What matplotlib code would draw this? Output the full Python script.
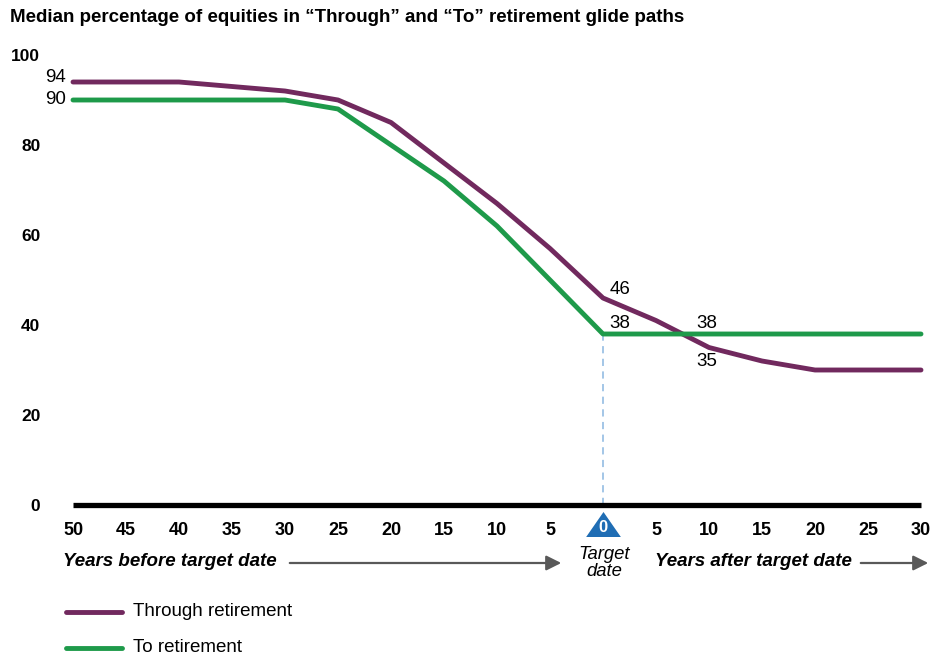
import matplotlib
matplotlib.use("Agg")
import matplotlib.pyplot as plt
from matplotlib.lines import Line2D
from matplotlib.patches import FancyArrowPatch

plt.rcParams['font.family'] = ['Liberation Sans', 'DejaVu Sans']

years = [-50, -45, -40, -35, -30, -25, -20, -15, -10, -5, 0, 5, 10, 15, 20, 25, 30]
through = [94, 94, 94, 93, 92, 90, 85, 76, 67, 57, 46, 41, 35, 32, 30, 30, 30]
to_ret = [90, 90, 90, 90, 90, 88, 80, 72, 62, 50, 38, 38, 38, 38, 38, 38, 38]
yticks = [0, 20, 40, 60, 80, 100]
title = "Median percentage of equities in \u201cThrough\u201d and \u201cTo\u201d retirement glide paths"

PURPLE = "#71295e"
GREEN = "#1e9a4a"
BLUE = "#1f6db4"
W, H = 946, 658

fig = plt.figure(figsize=(W / 100, H / 100), dpi=100)

def fx(px):
    return px / W

def fy(py):
    return 1 - py / H

ax = fig.add_axes([fx(73), fy(505), (921 - 73) / W, 450 / H])
ax.set_xlim(-50, 30)
ax.set_ylim(0, 100)
for s in ax.spines.values():
    s.set_visible(False)

ax.plot(years, through, color=PURPLE, lw=3.5, solid_capstyle='round', solid_joinstyle='round', clip_on=False, zorder=3)
ax.plot(years, to_ret, color=GREEN, lw=3.5, solid_capstyle='round', solid_joinstyle='round', clip_on=False, zorder=3)

# baseline
ax.plot([years[0], years[-1]], [0, 0], color='black', lw=3.8, solid_capstyle='butt', clip_on=False, zorder=4)
# target-date dashed line
ax.plot([0, 0], [0, to_ret[years.index(0)]], color='#9cc2e5', lw=1.3, ls=(0, (4, 3)), zorder=2)

ax.set_yticks(yticks)
ax.set_yticklabels([str(v) for v in yticks], fontsize=12.5, fontweight='bold')
ax.tick_params(axis='y', length=0, pad=23.5)
ax.tick_params(axis='x', length=0, pad=12)
xt = list(range(-50, 31, 5))
ax.set_xticks(xt)
ax.set_xticklabels([str(abs(v)) if v != 0 else "" for v in xt], fontsize=13, fontweight='bold')

# target triangle with 0
xtr = ax.get_xaxis_transform()
tri = [(-1, -0.72), (1, -0.72), (0, 0.72), (-1, -0.72)]
ax.plot([0], [-0.0433], marker=tri, markersize=25, color=BLUE, markeredgewidth=0,
        transform=xtr, clip_on=False, zorder=5)
ax.text(0, -0.05, "0", transform=xtr, color='white', fontsize=12, fontweight='bold',
        ha='center', va='center', zorder=6)

# data labels
ax.text(-50.7, through[0] + 1.1, str(through[0]), fontsize=13.5, ha='right', va='center')
ax.text(-50.7, to_ret[0], str(to_ret[0]), fontsize=13.5, ha='right', va='center')
ax.text(0.6, through[10] + 1.8, str(through[10]), fontsize=13.5, ha='left', va='center')
ax.text(0.6, to_ret[10] + 2.4, str(to_ret[10]), fontsize=13.5, ha='left', va='center')
ax.text(9.8, to_ret[12] + 2.4, str(to_ret[12]), fontsize=13.5, ha='center', va='center')
ax.text(9.8, through[12] - 3.0, str(through[12]), fontsize=13.5, ha='center', va='center')

# title
fig.text(fx(10), fy(17), title, fontsize=13.5, fontweight='bold', ha='left', va='center')

# bottom annotations
fig.text(fx(63), fy(562), "Years before target date", fontsize=13.5, fontweight='bold', style='italic', ha='left', va='center')
fig.text(fx(655), fy(562), "Years after target date", fontsize=13.5, fontweight='bold', style='italic', ha='left', va='center')
fig.text(fx(604), fy(563), "Target\ndate", fontsize=13.3, style='italic', ha='center', va='center', linespacing=1.07)
for x0, x1 in [(287, 564), (858, 931)]:
    fig.add_artist(FancyArrowPatch((fx(x0), fy(563)), (fx(x1), fy(563)),
                   transform=fig.transFigure, arrowstyle='-|>,head_length=6,head_width=3',
                   color='#595959', lw=1.6, mutation_scale=1.5))

# legend
for yp, col, name in [(612, PURPLE, "Through retirement"), (648, GREEN, "To retirement")]:
    fig.add_artist(Line2D([fx(66), fx(122)], [fy(yp), fy(yp)], color=col, lw=3.5, solid_capstyle='round', transform=fig.transFigure))
    fig.text(fx(133), fy(yp), name, fontsize=13.5, ha='left', va='center')

fig.savefig("out.png", dpi=100)
